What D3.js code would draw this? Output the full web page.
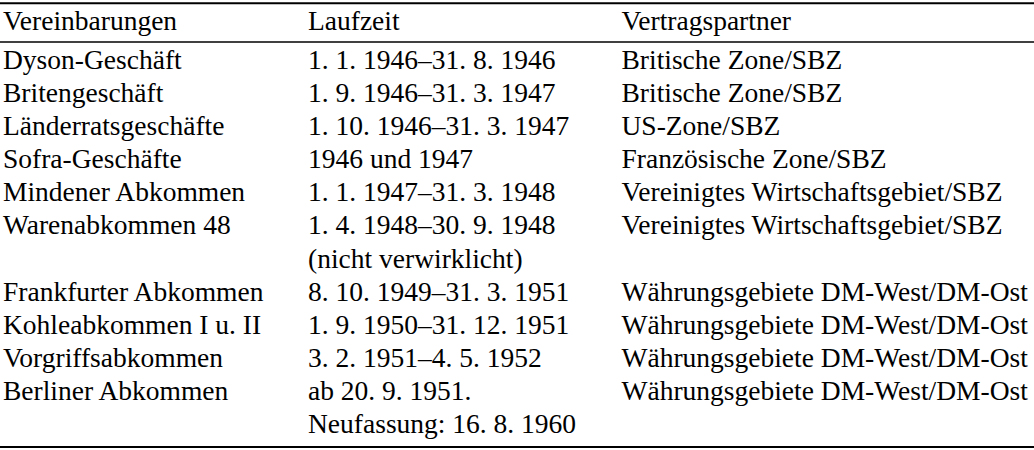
<!DOCTYPE html>
<html>
<head>
<meta charset="utf-8">
<script src="https://cdn.jsdelivr.net/npm/d3@7"></script>
<style>
  body { margin: 0; background: #fff; }
</style>
</head>
<body>
<div id="table"></div>
<script>
// table content
const columns = ["Vereinbarungen", "Laufzeit", "Vertragspartner"];

const agreements = [
    "Dyson-Geschäft",
    "Britengeschäft",
    "Länderratsgeschäfte",
    "Sofra-Geschäfte",
    "Mindener Abkommen",
    "Warenabkommen 48",
    "Frankfurter Abkommen",
    "Kohleabkommen I u. II",
    "Vorgriffsabkommen",
    "Berliner Abkommen"
];

// each entry may span more than one line
const periods = [
    ["1. 1. 1946–31. 8. 1946"],
    ["1. 9. 1946–31. 3. 1947"],
    ["1. 10. 1946–31. 3. 1947"],
    ["1946 und 1947"],
    ["1. 1. 1947–31. 3. 1948"],
    ["1. 4. 1948–30. 9. 1948", "(nicht verwirklicht)"],
    ["8. 10. 1949–31. 3. 1951"],
    ["1. 9. 1950–31. 12. 1951"],
    ["3. 2. 1951–4. 5. 1952"],
    ["ab 20. 9. 1951.", "Neufassung: 16. 8. 1960"]
];

const partners = [
    "Britische Zone/SBZ",
    "Britische Zone/SBZ",
    "US-Zone/SBZ",
    "Französische Zone/SBZ",
    "Vereinigtes Wirtschaftsgebiet/SBZ",
    "Vereinigtes Wirtschaftsgebiet/SBZ",
    "Währungsgebiete DM-West/DM-Ost",
    "Währungsgebiete DM-West/DM-Ost",
    "Währungsgebiete DM-West/DM-Ost",
    "Währungsgebiete DM-West/DM-Ost"
];

const width = 1034;
const height = 450;
const fontFamily = "Liberation Serif";
const fontSize = 27.5;

const svg = d3.select("#table")
    .append("svg")
    .attr("width", width)
    .attr("height", height);

// flatten rows into text lines
let lineIndex = 0;
const cells = [];
agreements.forEach((name, i) => {
    const start = lineIndex;
    cells.push({ col: 0, line: start, text: name });
    periods[i].forEach((p, j) => cells.push({ col: 1, line: start + j, text: p }));
    cells.push({ col: 2, line: start, text: partners[i] });
    lineIndex += periods[i].length;
});
const lineCount = lineIndex;

const x = d3.scaleOrdinal()
    .domain([0, 1, 2])
    .range([3, 308, 621.5]);

const y = d3.scaleLinear()
    .domain([0, lineCount - 1])
    .range([69, 433]);

const headerY = 29.5;

// rules (booktabs style)
const rules = [
    { y: 3.3, w: 2.1 },
    { y: 42, w: 1.4 },
    { y: 447, w: 2.1 }
];
svg.selectAll(".rule")
    .data(rules)
    .enter().append("line")
    .attr("class", "rule")
    .attr("x1", 0)
    .attr("x2", width)
    .attr("y1", d => d.y)
    .attr("y2", d => d.y)
    .attr("stroke", "#000")
    .attr("stroke-width", d => d.w);

// header
svg.selectAll(".head")
    .data(columns)
    .enter().append("text")
    .attr("class", "head")
    .attr("x", (d, i) => x(i))
    .attr("y", headerY)
    .attr("font-family", fontFamily)
    .attr("font-size", fontSize)
    .attr("fill", "#000")
    .text(d => d);

// body
svg.selectAll(".cell")
    .data(cells)
    .enter().append("text")
    .attr("class", "cell")
    .attr("x", d => x(d.col))
    .attr("y", d => y(d.line))
    .attr("font-family", fontFamily)
    .attr("font-size", fontSize)
    .attr("fill", "#000")
    .text(d => d.text);
</script>
</body>
</html>
